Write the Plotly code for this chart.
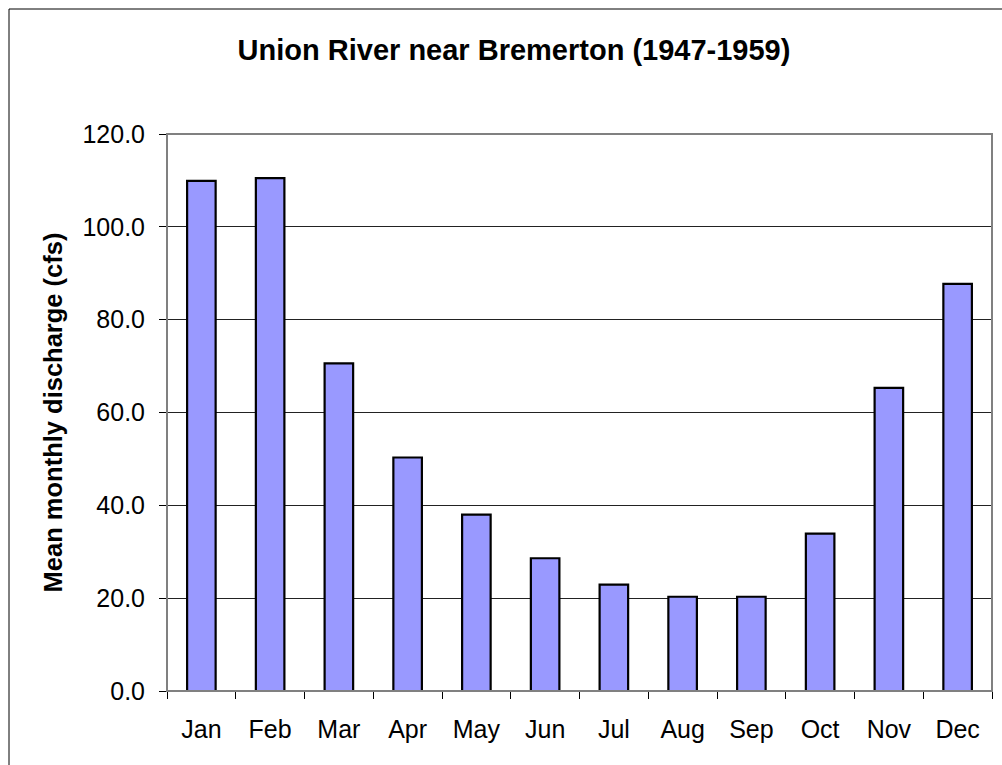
import plotly.graph_objects as go

months = ["Jan", "Feb", "Mar", "Apr", "May", "Jun", "Jul", "Aug", "Sep", "Oct", "Nov", "Dec"]
discharge = [109.9, 110.5, 70.6, 50.3, 38.0, 28.6, 22.9, 20.3, 20.3, 33.9, 65.3, 87.7]
title_text = "Union River near Bremerton (1947-1959)"
y_title = "Mean monthly discharge (cfs)"

W, H = 1002, 765
L, R, T, B = 167, 10, 134, 74
pw = W - L - R
ph = H - T - B

fig = go.Figure(go.Bar(
    x=months, y=discharge,
    marker=dict(color="#9999FF", line=dict(color="#000000", width=2.2)),
))

def px2x(p):
    return (p - L) / pw

def py2y(p):
    return (H - B - p) / ph

fig.update_layout(
    width=W, height=H,
    margin=dict(l=L, r=R, t=T, b=B),
    paper_bgcolor="white", plot_bgcolor="white",
    bargap=0.585,
    showlegend=False,
    font=dict(family="Liberation Sans, Arial, sans-serif", color="black"),
    title=dict(text="<b>" + title_text + "</b>", xref="container", x=514 / W, xanchor="center",
               yref="container", y=1 - 50 / H, yanchor="middle",
               font=dict(size=29, color="black")),
    xaxis=dict(showgrid=False, ticks="outside", tickson="boundaries", ticklen=7, tickcolor="black",
               showline=True, linecolor="black", linewidth=1, tickfont=dict(size=25),
               ticklabelstandoff=16),
    yaxis=dict(range=[0, 120], dtick=20, tickformat=".1f", showgrid=True, gridcolor="#222222",
               gridwidth=1, ticks="outside", ticklen=7, tickcolor="black",
               showline=True, linecolor="black", linewidth=1, tickfont=dict(size=25),
               zeroline=False, ticklabelstandoff=9,
               title=dict(text="<b>" + y_title + "</b>", font=dict(size=25.5), standoff=12)),
    shapes=[
        dict(type="rect", xref="paper", yref="paper", x0=0, x1=1, y0=0, y1=1,
             line=dict(color="#808080", width=2), layer="above"),
        dict(type="rect", xref="paper", yref="paper", x0=px2x(9), x1=px2x(1030),
             y0=py2y(790), y1=py2y(9), line=dict(color="#000000", width=1)),
    ],
)

fig.write_html("out.html", config={"displayModeBar": False},
               post_script="document.body.style.margin='0px';")
